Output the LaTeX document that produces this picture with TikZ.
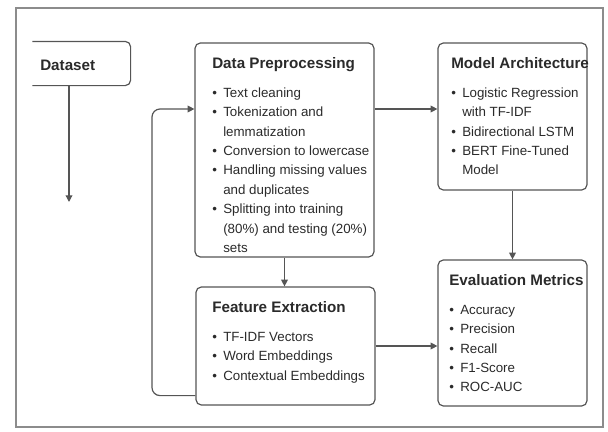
\documentclass[tikz,border=0pt]{standalone}
\usepackage{fontspec}
\setmainfont{Liberation Sans}
\usetikzlibrary{arrows.meta}
\usetikzlibrary{calc}
\usetikzlibrary{positioning}

\definecolor{linegray}{HTML}{555555}
\definecolor{framegray}{HTML}{8C8C8C}
\definecolor{txtgray}{HTML}{2A2A2A}

\newcommand{\bul}{\makebox[8.25pt][l]{\textbullet}}
\newcommand{\ind}{\hspace*{8.25pt}}
\newcommand{\ttl}[1]{{\fontsize{11.4}{14}\selectfont\bfseries #1}}

\begin{document}
\begin{tikzpicture}[x=0.75pt,y=-0.75pt]
	\useasboundingbox (0,0) rectangle (608,432);
	\draw[framegray, line width=1.1pt] (16,8) rectangle (603,427);

	\begin{scope}[every node/.style={draw=linegray, line width=0.9pt, rounded corners=4pt, inner sep=0pt}]
		\node[draw=none, minimum width=72.75pt, minimum height=32.25pt] (data) at (81.5,63.5) {};
		\node[minimum width=134.25pt, minimum height=160.5pt] (prep) at (284.5,150) {};
		\node[minimum width=111.75pt, minimum height=110.25pt] (arch) at (512.5,116.5) {};
		\node[minimum width=111.75pt, minimum height=109.5pt] (eval) at (512.5,333) {};
		\node[minimum width=134.25pt, minimum height=88.5pt] (feat) at (285.5,346) {};
	\end{scope}
	\draw[linegray, line width=0.9pt, rounded corners=4pt]
		(data.north west) -- (data.north east) -- (data.south east) -- (data.south west);

	\begin{scope}[every node/.style={anchor=north west, inner sep=0pt, align=left, text=txtgray,
	              font=\fontsize{10}{14.6}\selectfont}]
		\node (data-t) at (40,59.5) {\ttl{Dataset}};
		\node (prep-t) at (212,57) {\ttl{Data Preprocessing}\\[7pt]
			\bul Text cleaning\\
			\bul Tokenization and\\
			\ind lemmatization\\
			\bul Conversion to lowercase\\
			\bul Handling missing values\\
			\ind and duplicates\\
			\bul Splitting into training\\
			\ind (80\%) and testing (20\%)\\
			\ind sets};
		\node (arch-t) at (451,57) {\ttl{Model Architecture}\\[7pt]
			\bul Logistic Regression\\
			\ind with TF-IDF\\
			\bul Bidirectional LSTM\\
			\bul BERT Fine-Tuned\\
			\ind Model};
		\node (eval-t) at (449,274) {\ttl{Evaluation Metrics}\\[7pt]
			\bul Accuracy\\
			\bul Precision\\
			\bul Recall\\
			\bul F1-Score\\
			\bul ROC-AUC};
		\node (feat-t) at (212,301) {\ttl{Feature Extraction}\\[7pt]
			\bul TF-IDF Vectors\\
			\bul Word Embeddings\\
			\bul Contextual Embeddings};
	\end{scope}

	\coordinate (ds-end) at (69,202);
	\coordinate (loopc) at (152,109);
	\begin{scope}[every path/.style={draw=linegray, line width=0.9pt},
	              >={Triangle[length=5pt,width=5pt]}]
		\draw[->] (data.south -| ds-end) -- (ds-end);
		\draw[->, rounded corners=6pt] ($(feat.south west)+(0,-10)$) -| (loopc) -- (prep.west |- loopc);
		\draw[->] (prep.east |- loopc) -- (arch.west |- loopc);
		\draw[->] (arch.south) -- (eval.north);
		\draw[->] (prep.south) -- (prep.south |- feat.north);
		\draw[->] (feat.east) -- (feat.east -| eval.west);
	\end{scope}
\end{tikzpicture}
\end{document}
